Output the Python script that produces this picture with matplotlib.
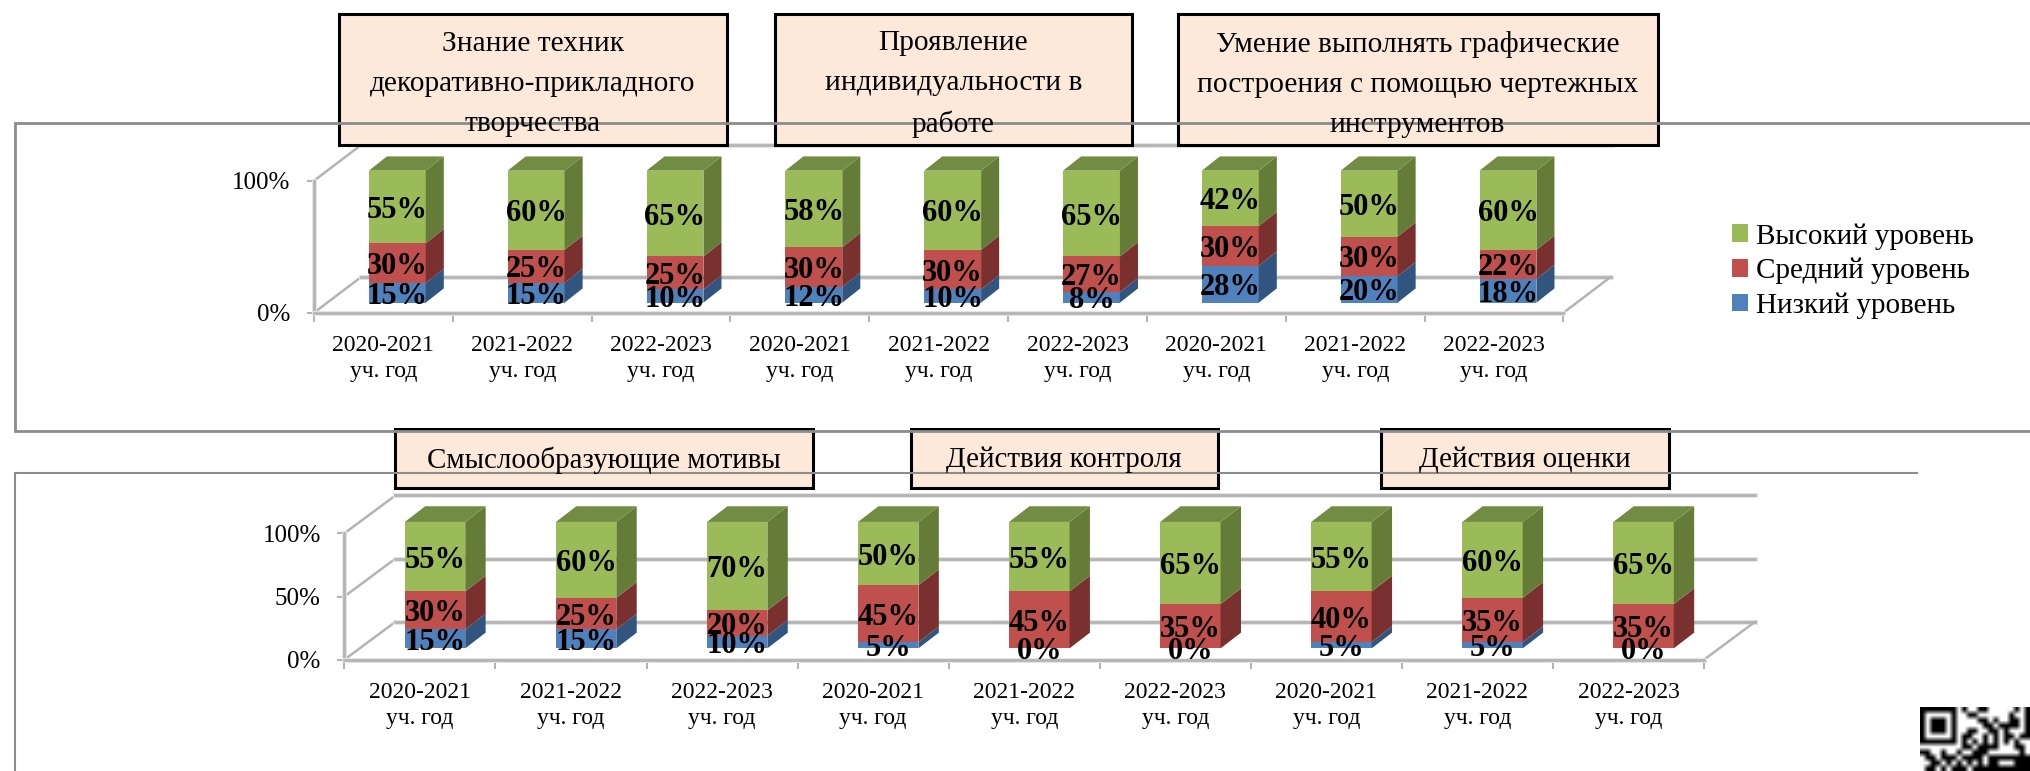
import matplotlib
matplotlib.use("Agg")
import matplotlib.pyplot as plt
import matplotlib.patheffects as pe
from matplotlib.patches import Polygon, Rectangle

plt.rcParams['font.family'] = ['Liberation Serif', 'DejaVu Serif']

W = 2031
H = 771

#values
years = ["2020-2021\nуч. год", "2021-2022\nуч. год", "2022-2023\nуч. год"] * 3
low1 = [15, 15, 10, 12, 10, 8, 28, 20, 18]
mid1 = [30, 25, 25, 30, 30, 27, 30, 30, 22]
high1 = [55, 60, 65, 58, 60, 65, 42, 50, 60]
low2 = [15, 15, 10, 5, 0, 0, 5, 5, 0]
mid2 = [30, 25, 20, 45, 45, 35, 40, 35, 35]
high2 = [55, 60, 70, 50, 55, 65, 55, 60, 65]
names = ["Низкий уровень", "Средний уровень", "Высокий уровень"]
yticks1 = [0, 100]
yticks2 = [0, 50, 100]
titles1 = ["Знание техник\nдекоративно-прикладного\nтворчества",
           "Проявление\nиндивидуальности в\nработе",
           "Умение выполнять графические\nпостроения с помощью чертежных\nинструментов"]
titles2 = ["Смыслообразующие мотивы", "Действия контроля", "Действия оценки"]

#the part of the qr code that fits on the picture
qr_rows = ["111111101001100000101",
           "100000100110000001001",
           "101110100001101001101",
           "101110100000110111101",
           "101110100110011010001",
           "100000101100101011011",
           "111111101010101010100",
           "000000001101111000110",
           "110010010011100000010",
           "011011101111011111111",
           "001101010101011000111",
           "011010111011111111111"]

front = ["#4F81BD", "#C0504D", "#9BBB59"]
side = ["#31557F", "#7A302E", "#657C38"]
top_color = "#738C43"
grid = "#B4B4B4"
frame = "#8C8C8C"
soft = [pe.withStroke(linewidth=3.6, foreground="#E4E4E4")]


def pixel_axes(fig, x0, x1, y0, y100):
    # y0 and y100 are pixels from the top of the picture
    return fig.add_axes([x0 / W, 1 - y0 / H, (x1 - x0) / W, (y0 - y100) / H])


def draw_chart(ax, low, mid, high, yticks, floor_dx, floor_dy, width, off, base, dx, dy):
    n = len(low)
    ax.set_xlim(0, n)
    ax.set_ylim(0, 100)
    ax.patch.set_visible(False)
    for s in ["top", "right"]:
        ax.spines[s].set_visible(False)
    for s in ["left", "bottom"]:
        ax.spines[s].set_color(grid)
        ax.spines[s].set_linewidth(2)
        ax.spines[s].set_path_effects(soft)

    #walls and floor
    for y in yticks:
        ax.plot([0, floor_dx], [y, y + floor_dy], color=grid, lw=1.8, clip_on=False, zorder=1)
        ax.plot([floor_dx, n + floor_dx], [y + floor_dy, y + floor_dy], color=grid, lw=2,
                clip_on=False, zorder=1, path_effects=soft)
    ax.plot([n, n + floor_dx], [0, floor_dy], color=grid, lw=1.8, clip_on=False, zorder=1)

    bottoms = [base] * n
    for values, c, sc, name in zip([low, mid, high], front, side, names):
        xs = [i + 0.5 + off for i in range(n)]
        ax.bar(xs, values, width, bottom=bottoms, color=c, label=name, zorder=3, clip_on=False)
        for i in range(n):
            r = xs[i] + width / 2
            b = bottoms[i]
            t = b + values[i]
            if values[i] > 0:
                ax.add_patch(Polygon([(r, b), (r + dx, b + dy), (r + dx, t + dy), (r, t)],
                                     closed=True, fc=sc, ec='none', zorder=3, clip_on=False))
            ax.text(xs[i], (b + t) / 2, "%d%%" % values[i], ha='center', va='center_baseline',
                    fontsize=22, fontweight='bold', color='black', zorder=5, clip_on=False)
            bottoms[i] = t
    for i in range(n):
        l = xs[i] - width / 2
        r = xs[i] + width / 2
        t = bottoms[i]
        ax.add_patch(Polygon([(l, t), (r, t), (r + dx, t + dy), (l + dx, t + dy)],
                             closed=True, fc=top_color, ec='none', zorder=3, clip_on=False))

    ax.set_xticks(range(n + 1))
    ax.set_xticklabels([])
    ax.set_xticks([i + 0.5 for i in range(n)], minor=True)
    ax.set_xticklabels(years, minor=True, fontsize=17, linespacing=1.3)
    ax.tick_params(axis='x', which='major', length=6.5, width=1.5, color=grid)
    ax.tick_params(axis='x', which='minor', length=0, pad=16)
    ax.set_yticks(yticks)
    ax.set_yticklabels(["%d%%" % y for y in yticks], fontsize=18)
    ax.tick_params(axis='y', length=5, width=1.5, color=grid, pad=12)


fig = plt.figure(figsize=(W / 100, H / 100), dpi=100, facecolor='white')

ax1 = pixel_axes(fig, 314, 1563.5, 312.7, 180.7)
draw_chart(ax1, low1, mid1, high1, yticks1, 0.339, 27, 0.41, 0.1, 7.6, 0.13, 10.8)
ax2 = pixel_axes(fig, 344.4, 1704, 659.7, 533.3)
draw_chart(ax2, low2, mid2, high2, yticks2, 0.338, 30, 0.40, 0.1, 9, 0.135, 12.4)

#legend belongs to the top chart
handles, labels = ax1.get_legend_handles_labels()
fig.legend(handles[::-1], labels[::-1], loc='center left',
           bbox_to_anchor=(1705.5 / W, 1 - 271 / H), frameon=False, fontsize=21,
           handlelength=0.55, handleheight=0.55, handletextpad=0.27, labelspacing=0.28)

#frames and title boxes sit on a page sized layer
page = fig.add_axes([0, 0, 1, 1], zorder=5)
page.axis('off')
page.patch.set_visible(False)
page.imshow([[1 - int(c) for c in row] for row in qr_rows], cmap='gray', vmin=0, vmax=1,
            extent=(1920, 2030, 771, 707), aspect='auto', interpolation='bilinear')
page.set_xlim(0, W)
page.set_ylim(H, 0)
page.plot([W, 14.7, 14.7, W], [122.7, 122.7, 430.7, 430.7], color=frame, lw=2, solid_joinstyle='miter')
page.plot([14.7, 14.7, 1917], [H, 473, 473], color=frame, lw=1.5, solid_joinstyle='miter')

boxes1 = [(339, 727), (775, 1131.5), (1177.5, 1657.5)]
for (x0, x1), t in zip(boxes1, titles1):
    page.add_patch(Rectangle((x0, 14), x1 - x0, 131, fc="#FDE9D9", ec='black', lw=2.2))
    page.text((x0 + x1) / 2, 84, t, ha='center', va='center', fontsize=21.2, linespacing=1.7)
boxes2 = [(395, 813), (911, 1217.6), (1381, 1669)]
for (x0, x1), t in zip(boxes2, titles2):
    page.add_patch(Rectangle((x0, 429.3), x1 - x0, 58.7, fc="#FDE9D9", ec='black', lw=2.2))
    page.text((x0 + x1) / 2, 460, t, ha='center', va='center', fontsize=20.9)

fig.savefig("out.png", dpi=100)
